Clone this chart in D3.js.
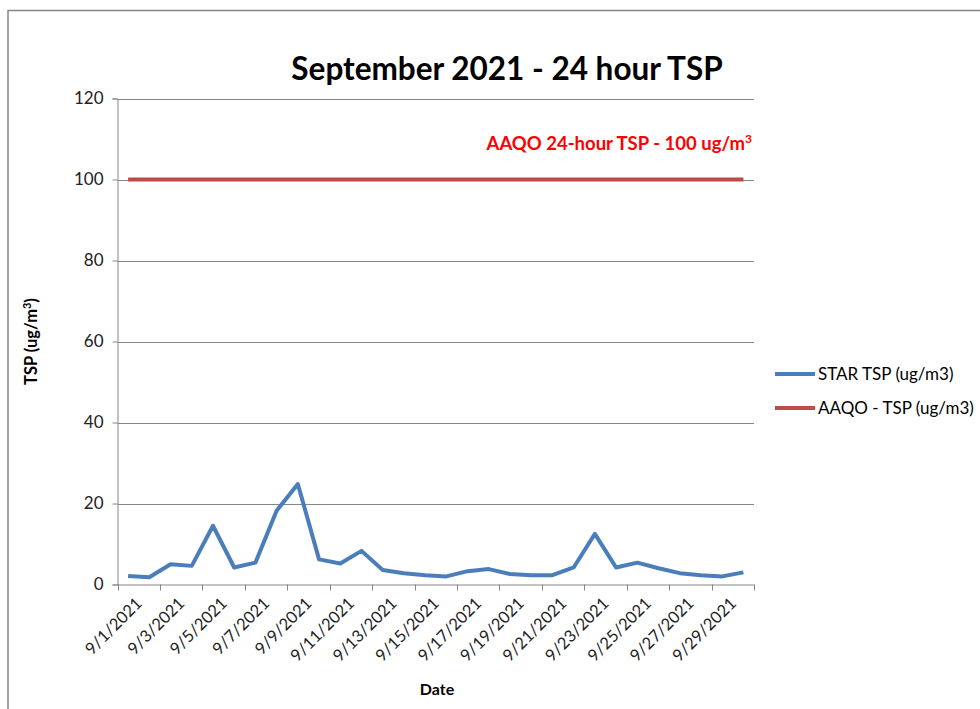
<!DOCTYPE html>
<html lang="en">
  <head>
    <meta charset="utf-8">
    <title>September 2021 - 24 hour TSP</title>
    <script src="https://d3js.org/d3.v7.min.js"></script>
    <style>
      body { margin: 0; background: #fff; }
      svg text { font-family: Lato, "Open Sans", sans-serif; }
    </style>
  </head>
  <body>
    <svg width="980" height="709" id="svg"></svg>

    <script>

    var dates = ["9/1/2021", "9/2/2021", "9/3/2021", "9/4/2021", "9/5/2021", "9/6/2021",
                 "9/7/2021", "9/8/2021", "9/9/2021", "9/10/2021", "9/11/2021", "9/12/2021",
                 "9/13/2021", "9/14/2021", "9/15/2021", "9/16/2021", "9/17/2021", "9/18/2021",
                 "9/19/2021", "9/20/2021", "9/21/2021", "9/22/2021", "9/23/2021", "9/24/2021",
                 "9/25/2021", "9/26/2021", "9/27/2021", "9/28/2021", "9/29/2021", "9/30/2021"];

    var starTsp = [2.1, 1.8, 5.0, 4.6, 14.5, 4.2, 5.4, 18.2, 24.8, 6.2,
                   5.2, 8.3, 3.6, 2.8, 2.3, 2.0, 3.3, 3.8, 2.6, 2.3,
                   2.3, 4.2, 12.5, 4.2, 5.4, 4.0, 2.8, 2.3, 2.0, 3.0];

    var aaqoTsp = dates.map(function() { return 100; });

    var yTicks = [0, 20, 40, 60, 80, 100, 120];

    var series = [
      {name: "STAR TSP (ug/m3)", values: starTsp, color: "#4a7ebb"},
      {name: "AAQO - TSP (ug/m3)", values: aaqoTsp, color: "#be4b48"}
    ];

    var svg = d3.select("svg");
    var pLeft = 117.5, pRight = 754, pTop = 98.5, pBottom = 584.5;

    // chart area border
    svg.append("path")
        .attr("d", "M8,709V10.5H980")
        .attr("fill", "none")
        .attr("stroke", "#868686")
        .attr("stroke-width", 1.5);

    var x = d3.scaleBand().domain(dates).range([pLeft, pRight]).padding(0),
        y = d3.scaleLinear().domain([0, 120]).range([pBottom, pTop]);

    // gridlines
    svg.append("g").selectAll("line")
      .data(yTicks.slice(1))
      .enter().append("line")
        .attr("x1", pLeft).attr("x2", pRight)
        .attr("y1", function(d) { return Math.round(y(d)) + 0.5; })
        .attr("y2", function(d) { return Math.round(y(d)) + 0.5; })
        .attr("stroke", "#868686");

    var yAxis = svg.append("g")
        .attr("transform", "translate(" + pLeft + ",0)")
        .call(d3.axisLeft(y).tickValues(yTicks).tickSize(5).tickPadding(9));
    yAxis.select(".domain").attr("stroke", "#868686");
    yAxis.selectAll(".tick line").attr("stroke", "#868686");
    yAxis.selectAll("text").attr("font-size", 17).attr("fill", "#222");

    // x axis: ticks at every second category boundary, labels on odd days
    var xg = svg.append("g");
    xg.append("line")
        .attr("x1", pLeft).attr("x2", pRight + 0.5)
        .attr("y1", pBottom + 0.5).attr("y2", pBottom + 0.5)
        .attr("stroke", "#868686");
    var bounds = dates.filter(function(d, i) { return i % 2 === 0; })
        .map(function(d) { return x(d); }).concat([pRight]);
    xg.selectAll(".tk")
      .data(bounds)
      .enter().append("line")
        .attr("class", "tk")
        .attr("x1", function(d) { return Math.round(d) + 0.5; })
        .attr("x2", function(d) { return Math.round(d) + 0.5; })
        .attr("y1", pBottom).attr("y2", pBottom + 6)
        .attr("stroke", "#868686");
    xg.selectAll(".lbl")
      .data(dates.filter(function(d, i) { return i % 2 === 0; }))
      .enter().append("text")
        .attr("class", "lbl")
        .attr("transform", function(d) {
          return "translate(" + (x(d) + x.bandwidth() / 2 + 15) + "," + (pBottom + 20) + ") rotate(-45)";
        })
        .attr("text-anchor", "end")
        .attr("font-size", 16.5)
        .attr("fill", "#222")
        .text(function(d) { return d; });

    var line = d3.line()
        .x(function(d, i) { return x(dates[i]) + x.bandwidth() / 2; })
        .y(function(d) { return y(d); });

    svg.append("g").selectAll("path")
      .data(series.slice().reverse())
      .enter().append("path")
        .attr("d", function(s) { return line(s.values); })
        .attr("fill", "none")
        .attr("stroke", function(s) { return s.color; })
        .attr("stroke-width", 4)
        .attr("stroke-linejoin", "round");

    // title and labels
    svg.append("text")
        .attr("x", 507).attr("y", 80)
        .attr("text-anchor", "middle")
        .attr("font-size", 31.5).attr("font-weight", "bold")
        .text("September 2021 - 24 hour TSP");

    svg.append("text")
        .attr("x", 752).attr("y", 150)
        .attr("text-anchor", "end")
        .attr("font-size", 18.5).attr("font-weight", "bold")
        .attr("fill", "#ff0000")
        .html("AAQO 24-hour TSP - 100 ug/m<tspan font-size='12' dy='-7'>3</tspan>");

    svg.append("text")
        .attr("transform", "translate(37," + ((pTop + pBottom) / 2) + ") rotate(-90)")
        .attr("text-anchor", "middle")
        .attr("font-size", 16.5).attr("font-weight", "bold")
        .html("TSP (ug/m<tspan font-size='11' dy='-6'>3</tspan><tspan dy='6'>)</tspan>");

    svg.append("text")
        .attr("x", 437).attr("y", 695)
        .attr("text-anchor", "middle")
        .attr("font-size", 16).attr("font-weight", "bold")
        .text("Date");

    // legend
    var lg = svg.append("g").selectAll("g")
      .data(series)
      .enter().append("g")
        .attr("transform", function(s, i) { return "translate(775," + (374 + i * 34) + ")"; });
    lg.append("line")
        .attr("x1", 0).attr("x2", 40)
        .attr("stroke", function(s) { return s.color; })
        .attr("stroke-width", 4);
    lg.append("text")
        .attr("x", 43).attr("dy", "0.35em")
        .attr("font-size", 17)
        .text(function(s) { return s.name; });

    </script>
  </body>
</html>
